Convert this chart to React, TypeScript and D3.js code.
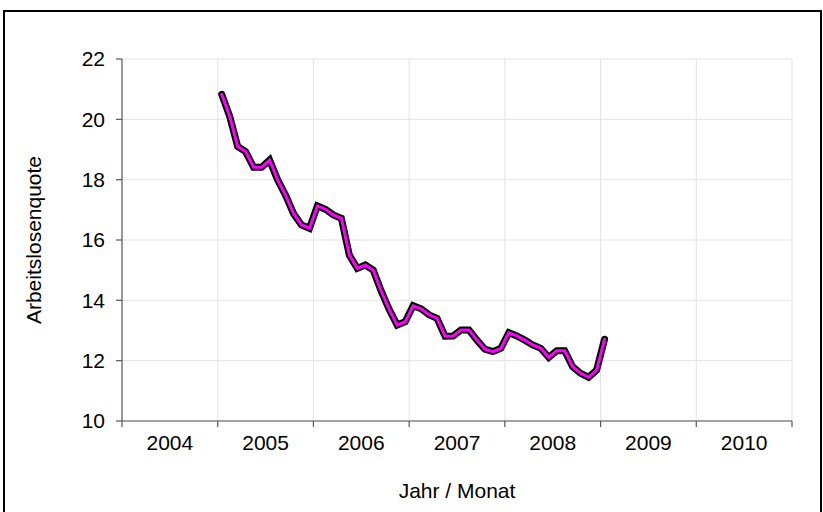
import React from "react";
import * as d3 from "d3";

const years = ["2004", "2005", "2006", "2007", "2008", "2009", "2010"];
const yTicks = [10, 12, 14, 16, 18, 20, 22];
const startMonth = "2005-01";
const values = [
  20.83, 20.1, 19.1, 18.93, 18.41, 18.41, 18.65, 18.0, 17.49, 16.88, 16.5, 16.39,
  17.13, 17.02, 16.83, 16.72, 15.5, 15.06, 15.17, 15.0, 14.3, 13.7, 13.18, 13.29,
  13.82, 13.72, 13.52, 13.4, 12.81, 12.82, 13.02, 13.02, 12.68, 12.38, 12.3, 12.41,
  12.93, 12.82, 12.68, 12.52, 12.41, 12.11, 12.33, 12.33, 11.8, 11.58, 11.45, 11.69,
  12.71,
];

const W = 823;
const H = 512;
const left = 122;
const right = 792;
const top = 59;
const bottom = 421;
const font = "'Liberation Sans', Arial, sans-serif";
const fs = 21;

export default function App() {
  const start = d3.timeParse("%Y-%m")(startMonth) as Date;
  const dates = values.map((_, i) => d3.timeMonth.offset(start, i));
  const x = d3.scaleLinear().domain([2004, 2011]).range([left, right]);
  const y = d3.scaleLinear().domain([10, 22]).range([bottom, top]);
  const pts: [number, number][] = values.map((v, i) => {
    const d = dates[i];
    return [x(d.getFullYear() + (d.getMonth() + 0.5) / 12), y(v)];
  });
  const line = d3.line();
  const path = line(pts) || "";
  const yearTicks = d3.range(2004, 2012);

  return (
    <svg
      width={W}
      height={H}
      style={{ position: "absolute", left: 0, top: 0, display: "block", background: "#fff" }}
    >
      <rect x={4} y={11} width={817} height={520} fill="#fff" stroke="#000" strokeWidth={2} />
      {yTicks.map((t) => (
        <line key={"gy" + t} x1={left} x2={right} y1={y(t)} y2={y(t)} stroke="#e3e3e3" strokeWidth={1} />
      ))}
      {yearTicks.slice(1).map((t) => (
        <line key={"gx" + t} x1={x(t)} x2={x(t)} y1={top} y2={bottom} stroke="#e3e3e3" strokeWidth={1} />
      ))}
      <line x1={left} x2={left} y1={top} y2={bottom} stroke="#555" strokeWidth={1.2} />
      <line x1={left} x2={right} y1={bottom} y2={bottom} stroke="#555" strokeWidth={1.2} />
      {yTicks.map((t) => (
        <g key={"ty" + t}>
          <line x1={left - 6} x2={left} y1={y(t)} y2={y(t)} stroke="#555" strokeWidth={1.2} />
          <text x={105} y={y(t)} dy="0.35em" textAnchor="end" fontFamily={font} fontSize={fs} fill="#000">
            {t}
          </text>
        </g>
      ))}
      {yearTicks.map((t) => (
        <line key={"tx" + t} x1={x(t)} x2={x(t)} y1={bottom} y2={bottom + 6} stroke="#555" strokeWidth={1.2} />
      ))}
      {years.map((yr, i) => (
        <text key={yr} x={x(2004 + i + 0.5)} y={450} textAnchor="middle" fontFamily={font} fontSize={fs} fill="#000">
          {yr}
        </text>
      ))}
      <text x={(left + right) / 2} y={498} textAnchor="middle" fontFamily={font} fontSize={fs} fill="#000">
        Jahr / Monat
      </text>
      <text
        transform={`translate(41,${(top + bottom) / 2}) rotate(-90)`}
        textAnchor="middle"
        fontFamily={font}
        fontSize={fs}
        fill="#000"
      >
        Arbeitslosenquote
      </text>
      <path d={path} fill="none" stroke="#000" strokeWidth={7} strokeLinejoin="miter" strokeLinecap="round" />
      <path d={path} fill="none" stroke="#ff00ff" strokeWidth={3} strokeLinejoin="miter" strokeLinecap="round" />
    </svg>
  );
}
